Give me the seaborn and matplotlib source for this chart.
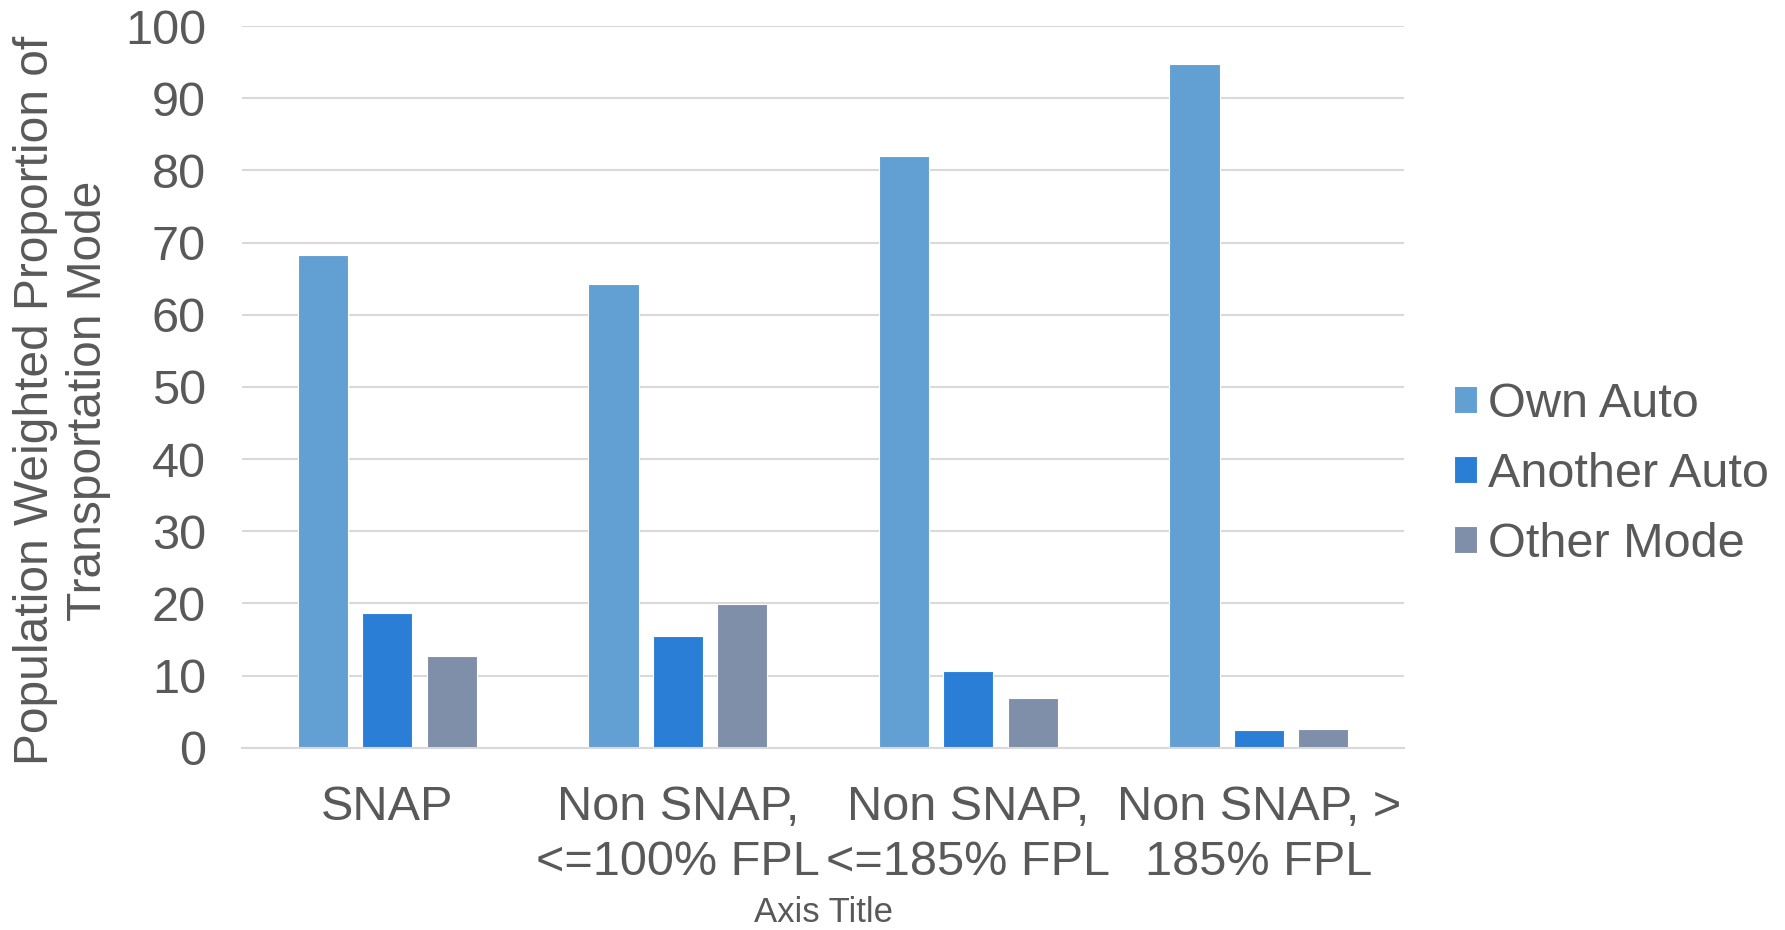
import matplotlib
matplotlib.use("Agg")
import matplotlib.pyplot as plt
import seaborn as sns
import pandas as pd

categories = ["SNAP", "Non SNAP,\n<=100% FPL", "Non SNAP,\n<=185% FPL", "Non SNAP, >\n185% FPL"]
modes = ["Own Auto", "Another Auto", "Other Mode"]
own_auto = [68.3, 64.3, 82.0, 94.8]
another_auto = [18.7, 15.5, 10.7, 2.4]
other_mode = [12.7, 19.9, 6.9, 2.6]
colors = ["#629fd2", "#2b7ed6", "#7f8ea9"]

rows = []
for series, name in zip([own_auto, another_auto, other_mode], modes):
    for cat, v in zip(categories, series):
        rows.append({"Group": cat, "Mode": name, "Value": v})
df = pd.DataFrame(rows)

sns.set_theme(style="white")
plt.rcParams["font.family"] = ["Liberation Sans", "DejaVu Sans"]
text_color = "#595959"
big = 35

fig = plt.figure(figsize=(17.85, 9.30), dpi=100)
ax = fig.add_axes([0.1356, 0.196, 0.651, 0.776])

sns.barplot(data=df, x="Group", y="Value", hue="Mode", order=categories,
            hue_order=modes, palette=colors, saturation=1, width=0.665, gap=0.22,
            edgecolor="white", linewidth=0.8, ax=ax, legend=True)

ax.set_ylim(0, 100)
ax.set_xlim(-0.5, 3.5)
ax.set_yticks(range(0, 101, 10))
ax.yaxis.grid(True, color="#d9d9d9", linewidth=1.5)
ax.set_axisbelow(True)
for s in ["left", "right", "top"]:
    ax.spines[s].set_visible(False)
ax.spines["bottom"].set_color("#d9d9d9")
ax.spines["bottom"].set_linewidth(1.5)
ax.tick_params(axis="both", length=0, colors=text_color, labelsize=big)
ax.tick_params(axis="y", pad=26)
ax.tick_params(axis="x", pad=27)
for lbl in ax.get_xticklabels():
    lbl.set_linespacing(1.28)

ax.set_ylabel("Population Weighted Proportion of\nTransportation Mode",
              fontsize=34.5, color=text_color, labelpad=10, linespacing=1.24)
ax.yaxis.label.set_y(0.481)
ax.set_xlabel("Axis Title", fontsize=25, color=text_color, labelpad=8)

handles, labels = ax.get_legend_handles_labels()
ax.get_legend().remove()
fig.legend(handles, labels, loc="center left", bbox_to_anchor=(0.8146, 0.49),
           bbox_transform=fig.transFigure, frameon=False, fontsize=big,
           labelcolor=text_color, borderpad=0, borderaxespad=0,
           handlelength=0.47, handleheight=0.47, handletextpad=0.23,
           labelspacing=0.51)

fig.savefig("out.png", dpi=100, facecolor="white")
